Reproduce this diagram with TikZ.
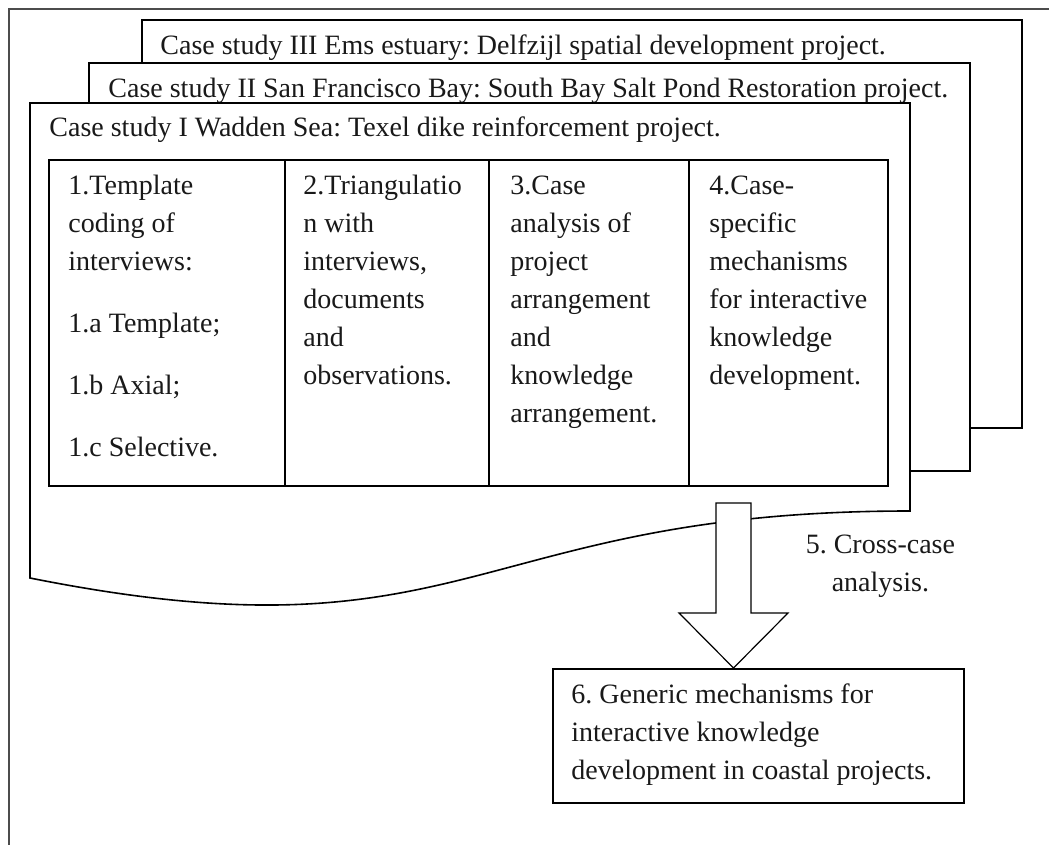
\documentclass[tikz,border=0pt]{standalone}
\usepackage{fontspec}
\setmainfont{Liberation Serif}
\frenchspacing
% stacked lines: the box baseline is the baseline of the first line
\newcommand{\stacklines}[1]{\vtop{\baselineskip=19pt\lineskiplimit=-100pt\relax #1}}
\newcommand{\rowtxt}[1]{\hbox{#1}}
\newcommand{\rowmid}[1]{\hbox to 0pt{\hss #1\hss}}
\newcommand{\rowgap}{\vskip 12pt}
\begin{document}
\begin{tikzpicture}[x=0.5pt,y=-0.5pt,
  doc/.style={draw=black, line width=0.8pt, fill=white, line join=miter},
  grid/.style={draw=black, line width=0.6pt},
  frame/.style={draw=black!70, line width=0.6pt},
  txt/.style={anchor=base west, inner sep=0pt, text=black!90,
              font=\fontsize{14pt}{19pt}\selectfont},
  resultbox/.style={draw=black, line width=0.8pt, fill=white, inner sep=0pt,
              anchor=north west, minimum width=205.5pt, minimum height=67pt},
  blockarrow/.style={draw=black, line width=0.6pt, fill=white, line join=miter}]
\useasboundingbox (0,0) rectangle (1049,845);

% outer frame (open to the right and bottom)
\draw[frame] (9,845) -- (9,9) -- (1049,9);

% stacked case-study sheets
\path[doc] (142,20) rectangle (1022,428);
\node[txt] (titleIII) at (160,55) {Case study III Ems estuary: Delfzijl spatial development project.};
\path[doc] (89,63) rectangle (970,471);
\node[txt] (titleII) at (108,98) {Case study II San Francisco Bay: South Bay Salt Pond Restoration project.};
\path[doc] (30,103) -- (910,103) -- (910,511)
   .. controls (470,511) and (470,666) .. (30,578) -- cycle;
\node[txt] (titleI) at (49,137) {Case study I Wadden Sea: Texel dike reinforcement project.};

% four-step table
\draw[grid] (49,160) rectangle (888,486);
\draw[grid] (285,160) -- (285,486);
\draw[grid] (489,160) -- (489,486);
\draw[grid] (689,160) -- (689,486);

\node[txt] (step1) at (68,195) {\stacklines{\rowtxt{1.Template}\rowtxt{coding of}\rowtxt{interviews:}\rowgap
  \rowtxt{1.a Template;}\rowgap\rowtxt{1.b Axial;}\rowgap\rowtxt{1.c Selective.}}};
\node[txt] (step2) at (303,195) {\stacklines{\rowtxt{2.Triangulatio}\rowtxt{n with}\rowtxt{interviews,}
  \rowtxt{documents}\rowtxt{and}\rowtxt{observations.}}};
\node[txt] (step3) at (510,195) {\stacklines{\rowtxt{3.Case}\rowtxt{analysis of}\rowtxt{project}
  \rowtxt{arrangement}\rowtxt{and}\rowtxt{knowledge}\rowtxt{arrangement.}}};
\node[txt] (step4) at (709,195) {\stacklines{\rowtxt{4.Case-}\rowtxt{specific}\rowtxt{mechanisms}
  \rowtxt{for interactive}\rowtxt{knowledge}\rowtxt{development.}}};

% generic result box
\node[resultbox] (generic) at (552,668) {};
\node[txt] (generictext) at (571,703) {\stacklines{\rowtxt{6. Generic mechanisms for}
  \rowtxt{interactive knowledge}\rowtxt{development in coastal projects.}}};

% block arrow for the cross-case step
\coordinate (tip) at (generic.north -| 733.5,0);
\path[blockarrow] (716,503) -- (751,503) -- (751,613) -- (788,613) -- (tip)
   -- (679,613) -- (716,613) -- cycle;
\node[txt] (crosscase) at (879,553) {\stacklines{\rowmid{5. Cross-case}\rowmid{analysis.}}};
\end{tikzpicture}
\end{document}
